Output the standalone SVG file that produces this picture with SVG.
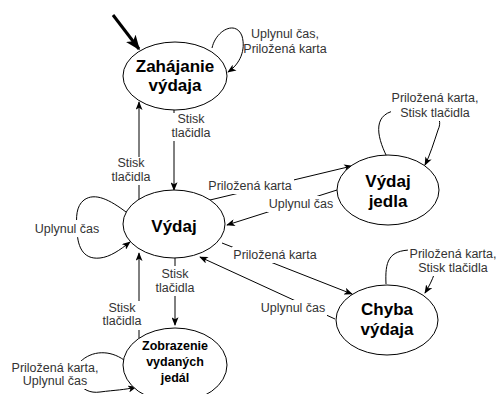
<svg xmlns="http://www.w3.org/2000/svg" width="499" height="394" viewBox="0 0 499 394">
<style>
.node{fill:#fff;stroke:#000;stroke-width:1}
.nt{font-family:"Liberation Sans",Arial,sans-serif;font-weight:bold;font-size:17px;fill:#000;text-anchor:middle}
.nts{font-size:12.5px}
.e{fill:none;stroke:#000;stroke-width:1;marker-end:url(#arr)}
.lb{font-family:"Liberation Sans",Arial,sans-serif;font-size:12.5px;fill:#333;text-anchor:middle}
.bg{fill:#fff}
</style>
<defs>
<marker id="arr" viewBox="0 0 10 8" refX="9" refY="4" markerWidth="9" markerHeight="7" markerUnits="userSpaceOnUse" orient="auto">
<path d="M0,0 L10,4 L0,8 L2.5,4 z" fill="#000"/>
</marker>
<marker id="arrBig" viewBox="0 0 10 8" refX="9" refY="4" markerWidth="15" markerHeight="12" markerUnits="userSpaceOnUse" orient="auto">
<path d="M0,0 L10,4 L0,8 L2.5,4 z" fill="#000"/>
</marker>
</defs>
<g id="connectors">
<line x1="113" y1="15" x2="139" y2="49" stroke="#000" stroke-width="3" marker-end="url(#arrBig)"/>
<path class="e" d="M212,48 C216,30 236,20 242,36 C246,50 240,64 228,72"/>
<line class="e" x1="174" y1="110" x2="174" y2="190"/>
<line class="e" x1="139" y1="202" x2="139" y2="102"/>
<path class="e" d="M126,212 C110,200 95,192 84,200 C76,206 76,218 77,228 C77,245 82,260 100,258 C110,257 120,250 130,242"/>
<line class="e" x1="210" y1="200" x2="352" y2="166"/>
<line class="e" x1="337" y1="190" x2="227" y2="225"/>
<path class="e" d="M387,157 C376,135 372,112 400,110 C430,108 445,115 438,130 C434,142 430,155 425,165"/>
<line class="e" x1="222" y1="243" x2="352" y2="294"/>
<line class="e" x1="335" y1="319" x2="200" y2="257"/>
<path class="e" d="M386,284 C385,262 388,250 412,250 C440,250 442,265 425,293"/>
<line class="e" x1="175" y1="258" x2="175" y2="325"/>
<line class="e" x1="139" y1="338" x2="139" y2="253"/>
<path class="e" d="M124,360 C110,350 92,350 80,362 C70,375 80,395 100,392 C115,390 125,390 136,387"/>
<g id="labels">
<text class="lb" x="285" y="38">Uplynul čas,</text>
<text class="lb" x="285" y="53">Priložená karta</text>
<rect class="bg" x="170" y="113" width="42" height="28"/>
<text class="lb" x="191" y="123">Stisk</text>
<text class="lb" x="191" y="137">tlačidla</text>
<rect class="bg" x="110" y="157" width="42" height="28"/>
<text class="lb" x="131" y="167">Stisk</text>
<text class="lb" x="131" y="181">tlačidla</text>
<rect class="bg" x="33" y="220" width="68" height="17"/>
<text class="lb" x="67" y="233">Uplynul čas</text>
<rect class="bg" x="207" y="178" width="87" height="16"/>
<text class="lb" x="250" y="190">Priložená karta</text>
<rect class="bg" x="267" y="196" width="68" height="16"/>
<text class="lb" x="301" y="208">Uplynul čas</text>
<rect class="bg" x="391" y="91" width="88" height="30"/>
<text class="lb" x="435" y="102">Priložená karta,</text>
<text class="lb" x="435" y="117">Stisk tlačidla</text>
<rect class="bg" x="232" y="247" width="87" height="16"/>
<text class="lb" x="275" y="259">Priložená karta</text>
<rect class="bg" x="259" y="300" width="68" height="16"/>
<text class="lb" x="293" y="312">Uplynul čas</text>
<rect class="bg" x="408" y="247" width="90" height="29"/>
<text class="lb" x="453" y="258">Priložená karta,</text>
<text class="lb" x="453" y="272">Stisk tlačidla</text>
<rect class="bg" x="154" y="266" width="42" height="30"/>
<text class="lb" x="175" y="278">Stisk</text>
<text class="lb" x="175" y="292">tlačidla</text>
<rect class="bg" x="101" y="301" width="43" height="29"/>
<text class="lb" x="122" y="312">Stisk</text>
<text class="lb" x="122" y="325">tlačidla</text>
<rect class="bg" x="8" y="361" width="95" height="28"/>
<text class="lb" x="55" y="372">Priložená karta,</text>
<text class="lb" x="55" y="385">Uplynul čas</text>
</g>
</g>
<g id="zahajanie">
<ellipse class="node" cx="175" cy="76" rx="52" ry="34"/>
<text class="nt" x="175" y="72">Zahájanie</text>
<text class="nt" x="175" y="91">výdaja</text>
</g>
<g id="vydaj">
<ellipse class="node" cx="174" cy="224" rx="51" ry="34"/>
<text class="nt" x="174" y="232">Výdaj</text>
</g>
<g id="vydaj-jedla">
<ellipse class="node" cx="388" cy="190" rx="51" ry="35"/>
<text class="nt" x="388" y="187">Výdaj</text>
<text class="nt" x="388" y="207">jedla</text>
</g>
<g id="chyba-vydaja">
<ellipse class="node" cx="387" cy="320" rx="51" ry="35"/>
<text class="nt" x="387" y="315">Chyba</text>
<text class="nt" x="387" y="335">výdaja</text>
</g>
<g id="zobrazenie">
<ellipse class="node" cx="175" cy="365" rx="52" ry="37"/>
<text class="nt nts" x="175" y="350">Zobrazenie</text>
<text class="nt nts" x="175" y="366">vydaných</text>
<text class="nt nts" x="175" y="382">jedál</text>
</g>
</svg>
